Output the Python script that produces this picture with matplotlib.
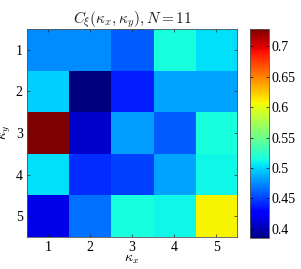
import numpy as np
import matplotlib
matplotlib.use("Agg")
import matplotlib.pyplot as plt

plt.rcParams['font.family'] = ['Liberation Serif', 'DejaVu Serif']
plt.rcParams['mathtext.fontset'] = 'cm'

kx_labels = [1, 2, 3, 4, 5]
ky_labels = [1, 2, 3, 4, 5]
row1 = [0.476, 0.476, 0.460, 0.515, 0.503]
row2 = [0.498, 0.385, 0.438, 0.484, 0.484]
row3 = [0.728, 0.409, 0.481, 0.460, 0.515]
row4 = [0.503, 0.443, 0.450, 0.484, 0.512]
row5 = [0.416, 0.466, 0.515, 0.512, 0.608]
cbar_ticks = [0.4, 0.45, 0.5, 0.55, 0.6, 0.65, 0.7]

data = np.array([row1, row2, row3, row4, row5])

fig = plt.figure(figsize=(3.01, 2.69), dpi=100)
ax = fig.add_axes([0.0897, 0.119, 0.698, 0.773])
im = ax.imshow(data, cmap='jet', aspect='auto', interpolation='nearest',
               extent=[0.5, 5.5, 5.5, 0.5])
ax.set_xticks(kx_labels)
ax.set_yticks(ky_labels)
ax.tick_params(direction='in', top=True, right=True, labelsize=10, length=2,
               width=0.5, color='#222222', pad=3)
for s in ax.spines.values():
    s.set_linewidth(0.6)
    s.set_color('#555555')
ax.set_title(r'$C_\xi(\kappa_x,\kappa_y), N=11$', fontsize=11, pad=4, color='#222222')
ax.set_xlabel(r'$\kappa_x$', fontsize=10, labelpad=-1)
ax.set_ylabel(r'$\kappa_y$', fontsize=10, labelpad=2)

cax = fig.add_axes([0.831, 0.115, 0.063, 0.777])
cb = fig.colorbar(im, cax=cax, ticks=cbar_ticks)
cb.ax.tick_params(direction='in', labelsize=10, length=2, width=0.5, left=True, pad=2)
cb.ax.set_yticklabels(['0.4', '0.45', '0.5', '0.55', '0.6', '0.65', '0.7'])
cb.outline.set_linewidth(0.6)
cb.outline.set_edgecolor('#555555')

fig.savefig('out.png', dpi=100)
